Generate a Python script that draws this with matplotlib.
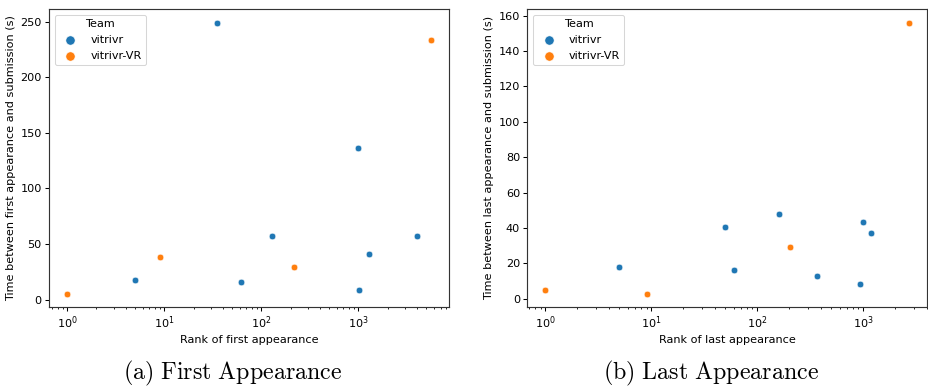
import matplotlib
matplotlib.use("Agg")
import matplotlib.pyplot as plt

plt.rcParams['mathtext.fontset'] = 'cm'
plt.rcParams['font.size'] = 10.75
plt.rcParams['axes.linewidth'] = 1.1
plt.rcParams['axes.edgecolor'] = '#333333'
plt.rcParams['xtick.major.width'] = 1.0
plt.rcParams['ytick.major.width'] = 1.0
plt.rcParams['xtick.minor.width'] = 0.8

teams = ["vitrivr", "vitrivr-VR"]
colors = {"vitrivr": "#1f77b4", "vitrivr-VR": "#ff7f0e"}

# First appearance
first_rank = [1, 5, 9, 35, 62, 128, 216, 993, 1016, 1289, 4025, 5560]
first_time = [5.4, 18, 38.4, 248.8, 16, 57.6, 29.4, 136, 8.7, 40.8, 57, 233.5]
first_team = ["vitrivr-VR", "vitrivr", "vitrivr-VR", "vitrivr", "vitrivr", "vitrivr",
              "vitrivr-VR", "vitrivr", "vitrivr", "vitrivr", "vitrivr", "vitrivr-VR"]

# Last appearance
last_rank = [1, 5, 9, 50, 60, 159, 204, 370, 942, 1000, 1198, 2698]
last_time = [5.1, 17.7, 2.8, 40.7, 16, 47.7, 29, 12.6, 8.5, 43.5, 37.1, 155.9]
last_team = ["vitrivr-VR", "vitrivr", "vitrivr-VR", "vitrivr", "vitrivr", "vitrivr",
             "vitrivr-VR", "vitrivr", "vitrivr", "vitrivr", "vitrivr", "vitrivr-VR"]

W, H = 928, 386
dpi = 75
fig = plt.figure(figsize=(W / dpi, H / dpi), dpi=dpi)

ax1 = fig.add_axes([49 / W, 1 - 307.3 / H, 400 / W, 298 / H])
ax2 = fig.add_axes([527.3 / W, 1 - 307.3 / H, 399.7 / W, 298 / H])


def draw(ax, ranks, times, tms, xlabel, ylabel):
    for t in teams:
        xs = [r for r, tm in zip(ranks, tms) if tm == t]
        ys = [v for v, tm in zip(times, tms) if tm == t]
        ax.scatter(xs, ys, s=40, color=colors[t], edgecolor="white", linewidth=0.5, label=t, zorder=3)
    ax.set_xscale("log")
    ax.set_xlabel(xlabel)
    ax.set_ylabel(ylabel)
    ax.legend(title="Team", loc="upper left", markerscale=1.4)


draw(ax1, first_rank, first_time, first_team, "Rank of first appearance",
     "Time between first appearance and submission (s)")
draw(ax2, last_rank, last_time, last_team, "Rank of last appearance",
     "Time between last appearance and submission (s)")
ax1.set_yticks([0, 50, 100, 150, 200, 250])
ax2.set_yticks([0, 20, 40, 60, 80, 100, 120, 140, 160])

fig.text(232.5 / W, 13 / H, r'$\mathrm{(a)\ First\ Appearance}$', ha="center", va="center", fontsize=23)
fig.text(710.7 / W, 13 / H, r'$\mathrm{(b)\ Last\ Appearance}$', ha="center", va="center", fontsize=23)

fig.savefig("out.png", dpi=dpi)
